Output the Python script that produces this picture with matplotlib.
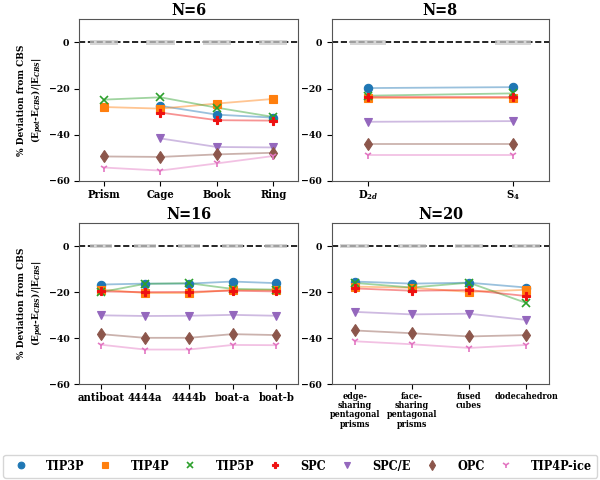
import numpy as np
import matplotlib
matplotlib.use("Agg")
import matplotlib.pyplot as plt

plt.rcParams['font.family'] = ['DejaVu Serif']
plt.rcParams['font.stretch'] = 'condensed'
plt.rcParams['font.weight'] = 'bold'
plt.rcParams['mathtext.fontset'] = 'dejavuserif'

models = ["TIP3P", "TIP4P", "TIP5P", "SPC", "SPC/E", "OPC", "TIP4P-ice"]
colors = ["#1f77b4", "#ff7f0e", "#2ca02c", "#ee1111", "#9467bd", "#8c564b", "#e377c2"]
markers = ["o", "s", "x", "P", "v", "d", "1"]

nan = np.nan
n6_labels = ["Prism", "Cage", "Book", "Ring"]
n6_vals = {
    "TIP3P": [nan, -27.5, -31.3, -32.6],
    "TIP4P": [-28.0, -28.7, -26.5, -24.5],
    "TIP5P": [-24.8, -23.8, -28.3, -32.3],
    "SPC": [nan, -30.4, -33.7, -33.9],
    "SPC/E": [nan, -41.6, -45.3, -45.5],
    "OPC": [-49.4, -49.6, -48.5, -47.8],
    "TIP4P-ice": [-54.2, -55.5, -52.4, -49.2],
}
n8_labels = ["D$_{2d}$", "S$_4$"]
n8_vals = {
    "TIP3P": [-19.8, -19.4],
    "TIP4P": [-24.0, -24.0],
    "TIP5P": [-23.1, -22.1],
    "SPC": [-23.7, -23.7],
    "SPC/E": [-34.4, -34.1],
    "OPC": [-43.8, -43.8],
    "TIP4P-ice": [-48.9, -48.9],
}
n16_labels = ["antiboat", "4444a", "4444b", "boat-a", "boat-b"]
n16_vals = {
    "TIP3P": [-16.7, -16.3, -16.3, -15.4, -16.1],
    "TIP4P": [-18.9, -20.4, -20.4, -19.0, -19.1],
    "TIP5P": [-20.0, -16.4, -16.1, -18.6, -18.9],
    "SPC": [-19.7, -20.0, -19.9, -19.4, -19.7],
    "SPC/E": [-30.1, -30.4, -30.3, -29.9, -30.3],
    "OPC": [-38.3, -39.9, -39.9, -38.3, -38.7],
    "TIP4P-ice": [-42.9, -45.0, -45.0, -43.0, -43.1],
}
n20_labels = ["edge-\nsharing\npentagonal\nprisms", "face-\nsharing\npentagonal\nprisms",
              "fused\ncubes", "dodecahedron"]
n20_vals = {
    "TIP3P": [-15.4, -16.3, -15.9, -18.0],
    "TIP4P": [-17.6, -18.1, -19.9, -19.0],
    "TIP5P": [-16.0, -18.0, -15.9, -24.7],
    "SPC": [-18.4, -19.4, -19.1, -21.7],
    "SPC/E": [-28.6, -29.7, -29.4, -32.1],
    "OPC": [-36.7, -37.9, -39.3, -38.7],
    "TIP4P-ice": [-41.4, -42.7, -44.3, -43.0],
}

panels = [
    ("N=6", n6_labels, n6_vals, [0.132, 0.623, 0.365, 0.337], 0.44, 0.5, 8.0),
    ("N=8", n8_labels, n8_vals, [0.553, 0.623, 0.362, 0.337], 0.25, 0.25, 8.0),
    ("N=16", n16_labels, n16_vals, [0.132, 0.200, 0.365, 0.335], 0.5, 0.5, 8.0),
    ("N=20", n20_labels, n20_vals, [0.553, 0.200, 0.362, 0.335], 0.4, 0.5, 6.4),
]

fig = plt.figure(figsize=(6, 4.8), dpi=100)
handles = []
for i, (title, labels, vals, pos, margin, bw, xfs) in enumerate(panels):
    ax = fig.add_axes(pos)
    x = np.arange(len(labels))
    ax.axhline(0, color='black', ls='--', lw=1.2, zorder=1)
    ax.bar(x, 2.0, bottom=-1.0, width=bw, color='#c8c8c8', alpha=0.75, zorder=2)
    for m, c, mk in zip(models, colors, markers):
        y = np.array(vals[m], dtype=float)
        ax.plot(x, y, color=c, lw=1.3, alpha=0.45, zorder=3)
        h, = ax.plot(x, y, ls='none', marker=mk, color=c, markersize=6,
                     markeredgewidth=1.2 if mk in ('x', '1') else 0.8, zorder=4, label=m)
        if i == 0:
            handles.append(h)
    ax.set_xlim(-margin, len(labels) - 1 + margin)
    ax.set_ylim(-60, 10)
    ax.set_yticks([-60, -40, -20, 0])
    ax.set_xticks(x)
    if i == 3:
        ax.set_xticklabels(labels, fontsize=xfs, fontweight='bold', linespacing=1.05)
    else:
        ax.set_xticklabels(labels, fontsize=xfs, fontweight='bold')
    ax.tick_params(axis='x', pad=2)
    for t in ax.get_yticklabels():
        t.set_fontsize(7.5)
        t.set_fontweight('bold')
    ax.set_title(title, fontsize=11.5, fontweight='bold', pad=3)
    for s in ax.spines.values():
        s.set_color('#555555')
    if i in (0, 2):
        ax.set_ylabel("% Deviation from CBS\n(E$_{pot}$-E$_{CBS}$)/|E$_{CBS}$|",
                      fontsize=7.2, fontweight='bold', labelpad=3)

fig.legend(handles=handles, labels=models, loc='lower left', ncol=7, mode='expand',
           bbox_to_anchor=(0.005, 0.005, 0.99, 0.048), fontsize=9, handletextpad=1.0,
           markerscale=0.8, borderaxespad=0.0, frameon=True, edgecolor='#cccccc')
fig.savefig("out.png", dpi=100)
